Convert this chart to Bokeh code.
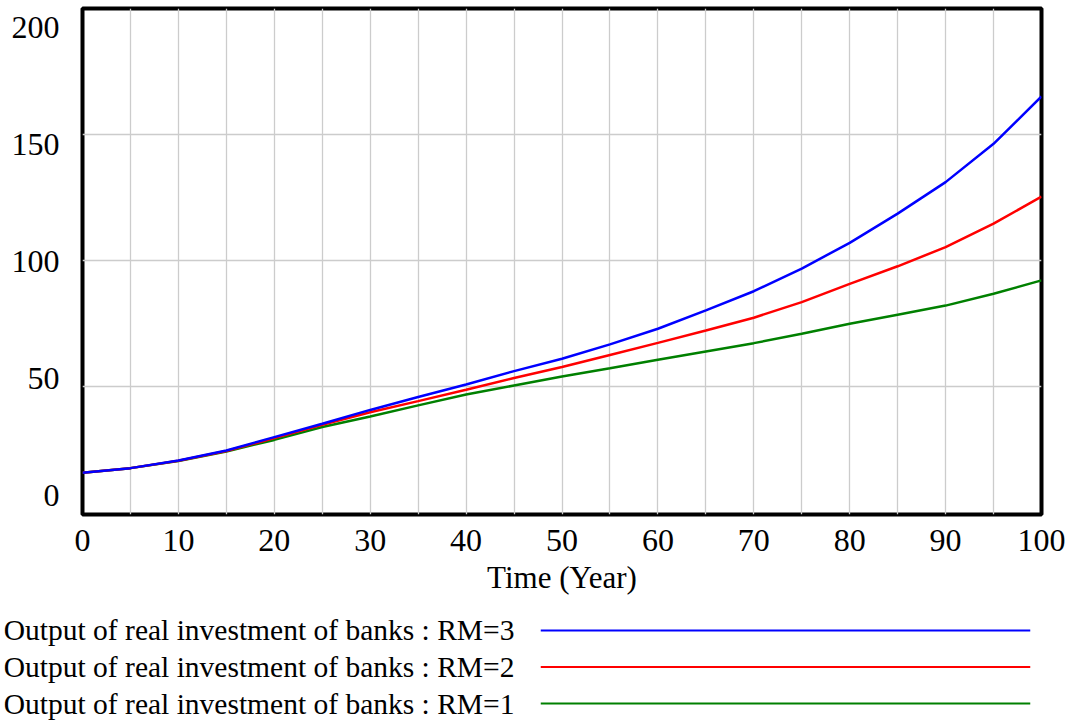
from bokeh.plotting import figure
from bokeh.models import Range1d, LinearAxis, FixedTicker
from bokeh.layouts import column
from bokeh.embed import file_html
from bokeh.resources import INLINE

# ---- data ----
time_year = [0, 5, 10, 15, 20, 25, 30, 35, 40, 45, 50, 55, 60, 65, 70, 75, 80, 85, 90, 95, 100]
rm3 = [15.8, 17.6, 20.6, 24.6, 29.9, 35.2, 40.7, 45.8, 50.8, 56.1, 61.0, 66.7, 72.9, 80.2, 87.8, 96.8, 107.0, 118.6, 131.1, 146.3, 165.1]
rm2 = [15.8, 17.6, 20.5, 24.4, 29.5, 34.8, 39.8, 44.2, 48.7, 53.4, 57.7, 62.5, 67.3, 72.2, 77.3, 83.5, 90.7, 97.7, 105.3, 114.6, 125.4]
rm1 = [15.8, 17.6, 20.4, 24.2, 28.8, 33.9, 38.1, 42.5, 46.8, 50.4, 54.0, 57.2, 60.6, 63.9, 67.2, 70.9, 74.9, 78.5, 82.1, 86.8, 92.1]
series_names = ["Output of real investment of banks : RM=3",
                "Output of real investment of banks : RM=2",
                "Output of real investment of banks : RM=1"]
series_colors = ["#0000ff", "#ff0000", "#008000"]
x_ticks = [0, 10, 20, 30, 40, 50, 60, 70, 80, 90, 100]
y_ticks = [0, 50, 100, 150, 200]
x_label = "Time (Year)"

FONT = "Liberation Serif"

p = figure(width=1073, height=602, output_backend="svg", toolbar_location=None,
           x_range=Range1d(0, 100), y_range=Range1d(-0.8, 200),
           min_border_left=82, min_border_right=32, min_border_top=8, min_border_bottom=88)
p.background_fill_color = "white"
p.border_fill_color = "white"
p.outline_line_color = "black"
p.outline_line_width = 4
p.outline_line_alpha = 1

# hidden default y axis; label axis with shifted range (labels spread like the original)
p.yaxis.visible = False
p.extra_y_ranges = {"lab": Range1d(-8.1, 208.1)}
ylab = LinearAxis(y_range_name="lab", ticker=FixedTicker(ticks=y_ticks))
ylab.axis_line_color = None
ylab.major_tick_in = 0
ylab.major_tick_out = 0
ylab.minor_tick_in = 0
ylab.minor_tick_out = 0
ylab.major_label_standoff = 23
ylab.major_label_text_font = FONT
ylab.major_label_text_font_size = "32px"
ylab.major_label_text_color = "black"
p.add_layout(ylab, "left")

xa = p.xaxis[0]
xa.ticker = FixedTicker(ticks=x_ticks)
xa.axis_line_color = None
xa.major_tick_in = 0
xa.major_tick_out = 0
xa.minor_tick_in = 0
xa.minor_tick_out = 0
xa.major_label_standoff = 15
xa.major_label_text_font = FONT
xa.major_label_text_font_size = "32px"
xa.major_label_text_color = "black"
xa.axis_label = x_label
xa.axis_label_text_font = FONT
xa.axis_label_text_font_size = "31px"
xa.axis_label_text_font_style = "normal"
xa.axis_label_text_color = "black"
xa.axis_label_standoff = 6

p.xgrid.ticker = FixedTicker(ticks=list(range(5, 100, 5)))
p.ygrid.ticker = FixedTicker(ticks=[50, 100, 150])
p.xgrid.grid_line_color = "#cccccc"
p.ygrid.grid_line_color = "#cccccc"
p.xgrid.grid_line_width = 1.3
p.ygrid.grid_line_width = 1.3

for ys, c in zip([rm1, rm2, rm3], series_colors[::-1]):
    p.line(time_year, ys, line_color=c, line_width=2.5)

# ---- legend strip ----
rows = [3, 2, 1]
q = figure(width=1073, height=122, output_backend="svg", toolbar_location=None,
           x_range=Range1d(0, 1), y_range=Range1d(0.425, 3.767),
           min_border_left=538, min_border_right=43, min_border_top=0, min_border_bottom=0)
q.outline_line_color = None
q.grid.visible = False
q.xaxis.visible = False
ya = q.yaxis[0]
ya.ticker = FixedTicker(ticks=rows)
ya.major_label_overrides = {r: n for r, n in zip(rows, series_names)}
ya.axis_line_color = None
ya.major_tick_in = 0
ya.major_tick_out = 0
ya.minor_tick_in = 0
ya.minor_tick_out = 0
ya.major_label_standoff = 26
ya.major_label_text_font = FONT
ya.major_label_text_font_size = "29.5px"
ya.major_label_text_color = "black"
q.segment(x0=[0] * 3, y0=rows, x1=[1] * 3, y1=rows, line_color=series_colors, line_width=2)

layout = column(column(p), column(q), spacing=0)
open("out.html", "w").write(file_html(layout, INLINE))
